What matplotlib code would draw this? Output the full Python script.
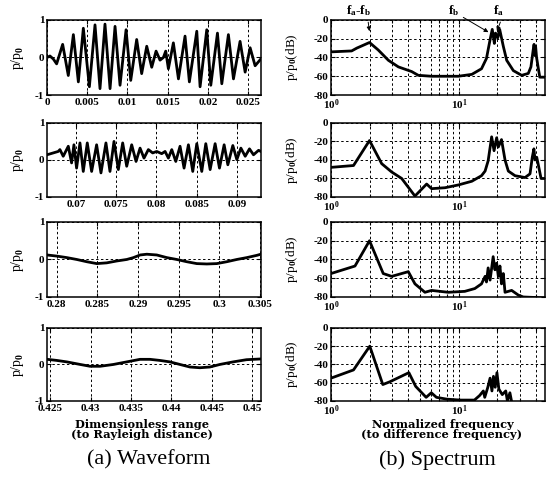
import matplotlib
matplotlib.use('Agg')
import matplotlib.pyplot as plt

plt.rcParams['font.family'] = 'Liberation Serif'
plt.rcParams['font.weight'] = 'bold'
plt.rcParams['mathtext.fontset'] = 'custom'
plt.rcParams['mathtext.rm'] = 'Liberation Serif:bold'
plt.rcParams['mathtext.it'] = 'Liberation Serif:bold'
plt.rcParams['mathtext.bf'] = 'Liberation Serif:bold'
plt.rcParams['axes.unicode_minus'] = False

# waveforms (range, p/p0)
wave1_x = [0.0, 0.00037, 0.00079, 0.0012, 0.00195, 0.00265, 0.00328, 0.0039, 0.00452, 0.00527,
           0.00597, 0.00659, 0.00721, 0.00784, 0.00846, 0.00908, 0.00983, 0.01041, 0.01115, 0.01177,
           0.0124, 0.01302, 0.01356, 0.01405, 0.01447, 0.01476, 0.01509, 0.01571, 0.01634, 0.01716,
           0.0177, 0.01862, 0.01903, 0.01986, 0.02036, 0.02119, 0.02173, 0.02255, 0.02318, 0.024,
           0.02463, 0.02525, 0.02587, 0.02658]
wave1_y = [0.0, 0.04, -0.04, -0.17, 0.35, -0.48, 0.61, -0.65, 0.78, -0.78,
           0.87, -0.83, 0.89, -0.83, 0.83, -0.74, 0.74, -0.61, 0.48, -0.43,
           0.30, -0.26, 0.17, -0.07, 0.0, 0.17, -0.30, 0.39, -0.57, 0.57,
           -0.65, 0.70, -0.78, 0.74, -0.74, 0.65, -0.70, 0.61, -0.57, 0.43,
           -0.39, 0.26, -0.22, -0.04]

wave2_x = [0.0664, 0.06718, 0.0678, 0.06801, 0.06842, 0.06905, 0.06946, 0.06975, 0.07008, 0.0705,
           0.07091, 0.07141, 0.07195, 0.07257, 0.07311, 0.07373, 0.07423, 0.07473, 0.07527, 0.07581,
           0.07631, 0.07693, 0.07747, 0.07797, 0.07846, 0.079, 0.07954, 0.08004, 0.08066, 0.08108,
           0.08149, 0.08191, 0.08241, 0.08294, 0.08344, 0.08398, 0.08452, 0.08502, 0.08564, 0.08614,
           0.08668, 0.0873, 0.08784, 0.08842, 0.08888, 0.0895, 0.09, 0.0905, 0.09104, 0.09157,
           0.09207, 0.0927, 0.09299]
wave2_y = [0.14, 0.19, 0.23, 0.28, 0.10, 0.37, -0.08, 0.41, -0.22, 0.46,
           -0.31, 0.46, -0.31, 0.41, -0.35, 0.46, -0.31, 0.50, -0.26, 0.46,
           -0.17, 0.41, -0.04, 0.32, 0.05, 0.28, 0.19, 0.23, 0.17, 0.23,
           0.05, 0.28, -0.04, 0.37, -0.22, 0.41, -0.31, 0.44, -0.31, 0.44,
           -0.26, 0.44, -0.22, 0.41, -0.13, 0.39, 0.01, 0.32, 0.10, 0.30,
           0.14, 0.26, 0.23]

wave3_x = [0.27881, 0.28, 0.28123, 0.28246, 0.28369, 0.28492, 0.28615, 0.28738, 0.28861, 0.28943,
           0.29025, 0.29107, 0.29229, 0.29352, 0.29475, 0.29598, 0.29721, 0.29844, 0.29967, 0.3009,
           0.30213, 0.30336, 0.30459, 0.30508]
wave3_y = [0.12, 0.09, 0.05, 0.0, -0.06, -0.11, -0.09, -0.04, 0.0, 0.05,
           0.12, 0.14, 0.12, 0.05, 0.0, -0.06, -0.11, -0.12, -0.11, -0.06,
           0.0, 0.05, 0.11, 0.14]

wave4_x = [0.42463, 0.42582, 0.42706, 0.42871, 0.42994, 0.43118, 0.43283, 0.43447, 0.43612, 0.43736,
           0.43859, 0.43983, 0.44106, 0.4423, 0.44354, 0.44477, 0.44601, 0.44765, 0.4493, 0.45103]
wave4_y = [0.14, 0.11, 0.07, 0.0, -0.05, -0.05, 0.0, 0.07, 0.14, 0.14,
           0.11, 0.07, 0.0, -0.07, -0.09, -0.07, 0.0, 0.07, 0.13, 0.15]

wave_xlim = [(0, 0.0266), (0.0664, 0.093), (0.2788, 0.3051), (0.4246, 0.4511)]
wave_xticks = [[0, 0.005, 0.01, 0.015, 0.02, 0.025],
               [0.07, 0.075, 0.08, 0.085, 0.09],
               [0.28, 0.285, 0.29, 0.295, 0.3, 0.305],
               [0.425, 0.43, 0.435, 0.44, 0.445, 0.45]]

# spectra (normalized frequency, dB)
spec1_f = [1.0, 1.45, 1.59, 2.0, 2.34, 2.81, 3.36, 4.27, 4.81, 6.11, 9.88, 12.6, 15.0, 16.4, 17.5,
           18.2, 18.9, 19.3, 20.1, 20.8, 22.2, 23.6, 26.6, 30.9, 34.8, 36.5, 38.0, 38.6, 39.3, 39.7,
           40.4, 41.5, 42.8, 47.3]
spec1_db = [-34, -33, -30, -24, -32, -43, -50, -55, -59, -60, -60, -58, -52, -41, -21,
            -10, -25, -14, -19, -10, -28, -43, -54, -59, -57, -50, -32, -26, -38, -28,
            -40, -50, -61, -61]

spec2_f = [1.0, 1.5, 2.0, 2.49, 2.98, 3.57, 4.53, 5.59, 6.11, 7.78, 9.88, 12.6, 15.0, 16.0, 16.9,
           18.0, 18.8, 19.7, 20.3, 21.5, 22.9, 24.3, 27.4, 32.8, 35.9, 37.4, 38.5, 39.3, 40.5, 41.5,
           43.8, 47.3]
spec2_db = [-48, -46, -19, -44, -53, -60, -79, -66, -71, -70, -67, -63, -57, -52, -41,
            -15, -30, -16, -26, -18, -40, -52, -57, -59, -55, -37, -28, -40, -37, -44,
            -60, -60]

spec3_f = [1.0, 1.54, 2.0, 2.56, 2.98, 4.02, 4.53, 5.42, 6.11, 8.26, 11.1, 13.3, 15.0, 16.0, 16.4,
           16.9, 17.5, 18.5, 19.1, 19.7, 20.3, 20.9, 21.5, 22.2, 22.9, 25.8, 29.1, 31.8, 47.3]
spec3_db = [-55, -47, -20, -55, -58, -53, -66, -75, -73, -75, -74, -71, -66, -58, -64,
            -49, -62, -37, -51, -44, -58, -47, -66, -55, -75, -73, -78, -80, -81]

spec4_f = [1.0, 1.5, 2.01, 2.54, 2.88, 4.06, 4.59, 5.54, 6.08, 6.67, 8.04, 10.3, 13.2, 14.5, 15.5,
           15.9, 16.8, 17.5, 18.1, 18.6, 19.2, 19.8, 20.5, 21.8, 23.2, 23.9, 25.0, 25.9, 47.3]
spec4_db = [-55, -46, -20, -62, -59, -49, -64, -76, -71, -76, -78, -79, -79, -74, -69,
            -76, -65, -55, -69, -53, -65, -49, -67, -73, -69, -80, -71, -82, -82]

waves = [(wave1_x, wave1_y), (wave2_x, wave2_y), (wave3_x, wave3_y), (wave4_x, wave4_y)]
specs = [(spec1_f, spec1_db), (spec2_f, spec2_db), (spec3_f, spec3_db), (spec4_f, spec4_db)]

fig = plt.figure(figsize=(5.52, 4.84), dpi=100)
rows = [(0.8037, 0.155), (0.593, 0.153), (0.3864, 0.155), (0.1715, 0.151)]
grid_kw = dict(color='k', linestyle=(0, (2.5, 2.5)), linewidth=0.7)


def style(ax):
    ax.tick_params(which='both', direction='in', top=True, right=True, labelsize=8, pad=2,
                   width=0.8)
    ax.tick_params(which='major', length=3)
    ax.tick_params(which='minor', length=2)
    for s in ax.spines.values():
        s.set_linewidth(1.1)


axes_right = []
for i, (b, h) in enumerate(rows):
    axl = fig.add_axes([0.0851, b, 0.3877, h])
    x, y = waves[i]
    axl.plot(x, y, color='k', lw=2.0)
    axl.set_xlim(*wave_xlim[i])
    axl.set_ylim(-1, 1)
    axl.set_yticks([-1, 0, 1])
    axl.set_xticks(wave_xticks[i])
    axl.set_xticklabels(['%g' % t for t in wave_xticks[i]])
    axl.grid(True, **grid_kw)
    axl.set_ylabel('p/p$_0$', fontsize=10)
    axl.yaxis.set_label_coords(-0.1, 0.5)
    style(axl)

    axr = fig.add_axes([0.5996, b, 0.3877, h])
    f, db = specs[i]
    axr.semilogx(f, db, color='k', lw=2.0)
    axr.set_xlim(1, 47)
    axr.set_ylim(-80, 0)
    axr.set_yticks([-80, -60, -40, -20, 0])
    axr.set_xticks([1, 10])
    axr.set_xticks([2, 3, 4, 5, 6, 7, 8, 9, 20, 30, 40], minor=True)
    axr.xaxis.set_minor_formatter(plt.NullFormatter())
    axr.grid(True, which='both', axis='x', **grid_kw)
    axr.grid(True, which='major', axis='y', **grid_kw)
    axr.set_ylabel('p/p$_0$(dB)', fontsize=9.5)
    axr.yaxis.set_label_coords(-0.145, 0.5)
    style(axr)
    axes_right.append(axr)

arrow = dict(arrowstyle='-|>', color='k', lw=0.7, mutation_scale=6, shrinkA=1, shrinkB=0)
ax0 = axes_right[0]
ax0.annotate('f$_a$-f$_b$', xy=(2, -12), xytext=(1.65, 10), ha='center', va='center',
             fontsize=9.5, annotation_clip=False, arrowprops=dict(arrow, relpos=(0.85, 0)))
ax0.annotate('f$_b$', xy=(17, -13), xytext=(9.1, 10), ha='center', va='center',
             fontsize=9.5, annotation_clip=False, arrowprops=dict(arrow, relpos=(1, 0.2)))
ax0.annotate('f$_a$', xy=(19.8, -12), xytext=(20.4, 10), ha='center', va='center',
             fontsize=9.5, annotation_clip=False, arrowprops=dict(arrow, relpos=(0.8, 0)))

fig.text(142 / 552, 1 - 424 / 484, 'Dimensionless range', ha='center', va='center',
         fontsize=8.2, family='DejaVu Serif', weight='bold')
fig.text(142 / 552, 1 - 435 / 484, '(to Rayleigh distance)', ha='center', va='center',
         fontsize=8.2, family='DejaVu Serif', weight='bold')
fig.text(443 / 552, 1 - 424 / 484, 'Normalized frequency', ha='center', va='center',
         fontsize=8.2, family='DejaVu Serif', weight='bold')
fig.text(442 / 552, 1 - 435 / 484, '(to difference frequency)', ha='center', va='center',
         fontsize=8.2, family='DejaVu Serif', weight='bold')
fig.text(149 / 552, 1 - 460 / 484, '(a) Waveform', ha='center', va='center',
         fontsize=16, weight='normal')
fig.text(437 / 552, 1 - 460 / 484, '(b) Spectrum', ha='center', va='center',
         fontsize=16, weight='normal')

fig.savefig('out.png', dpi=100)
